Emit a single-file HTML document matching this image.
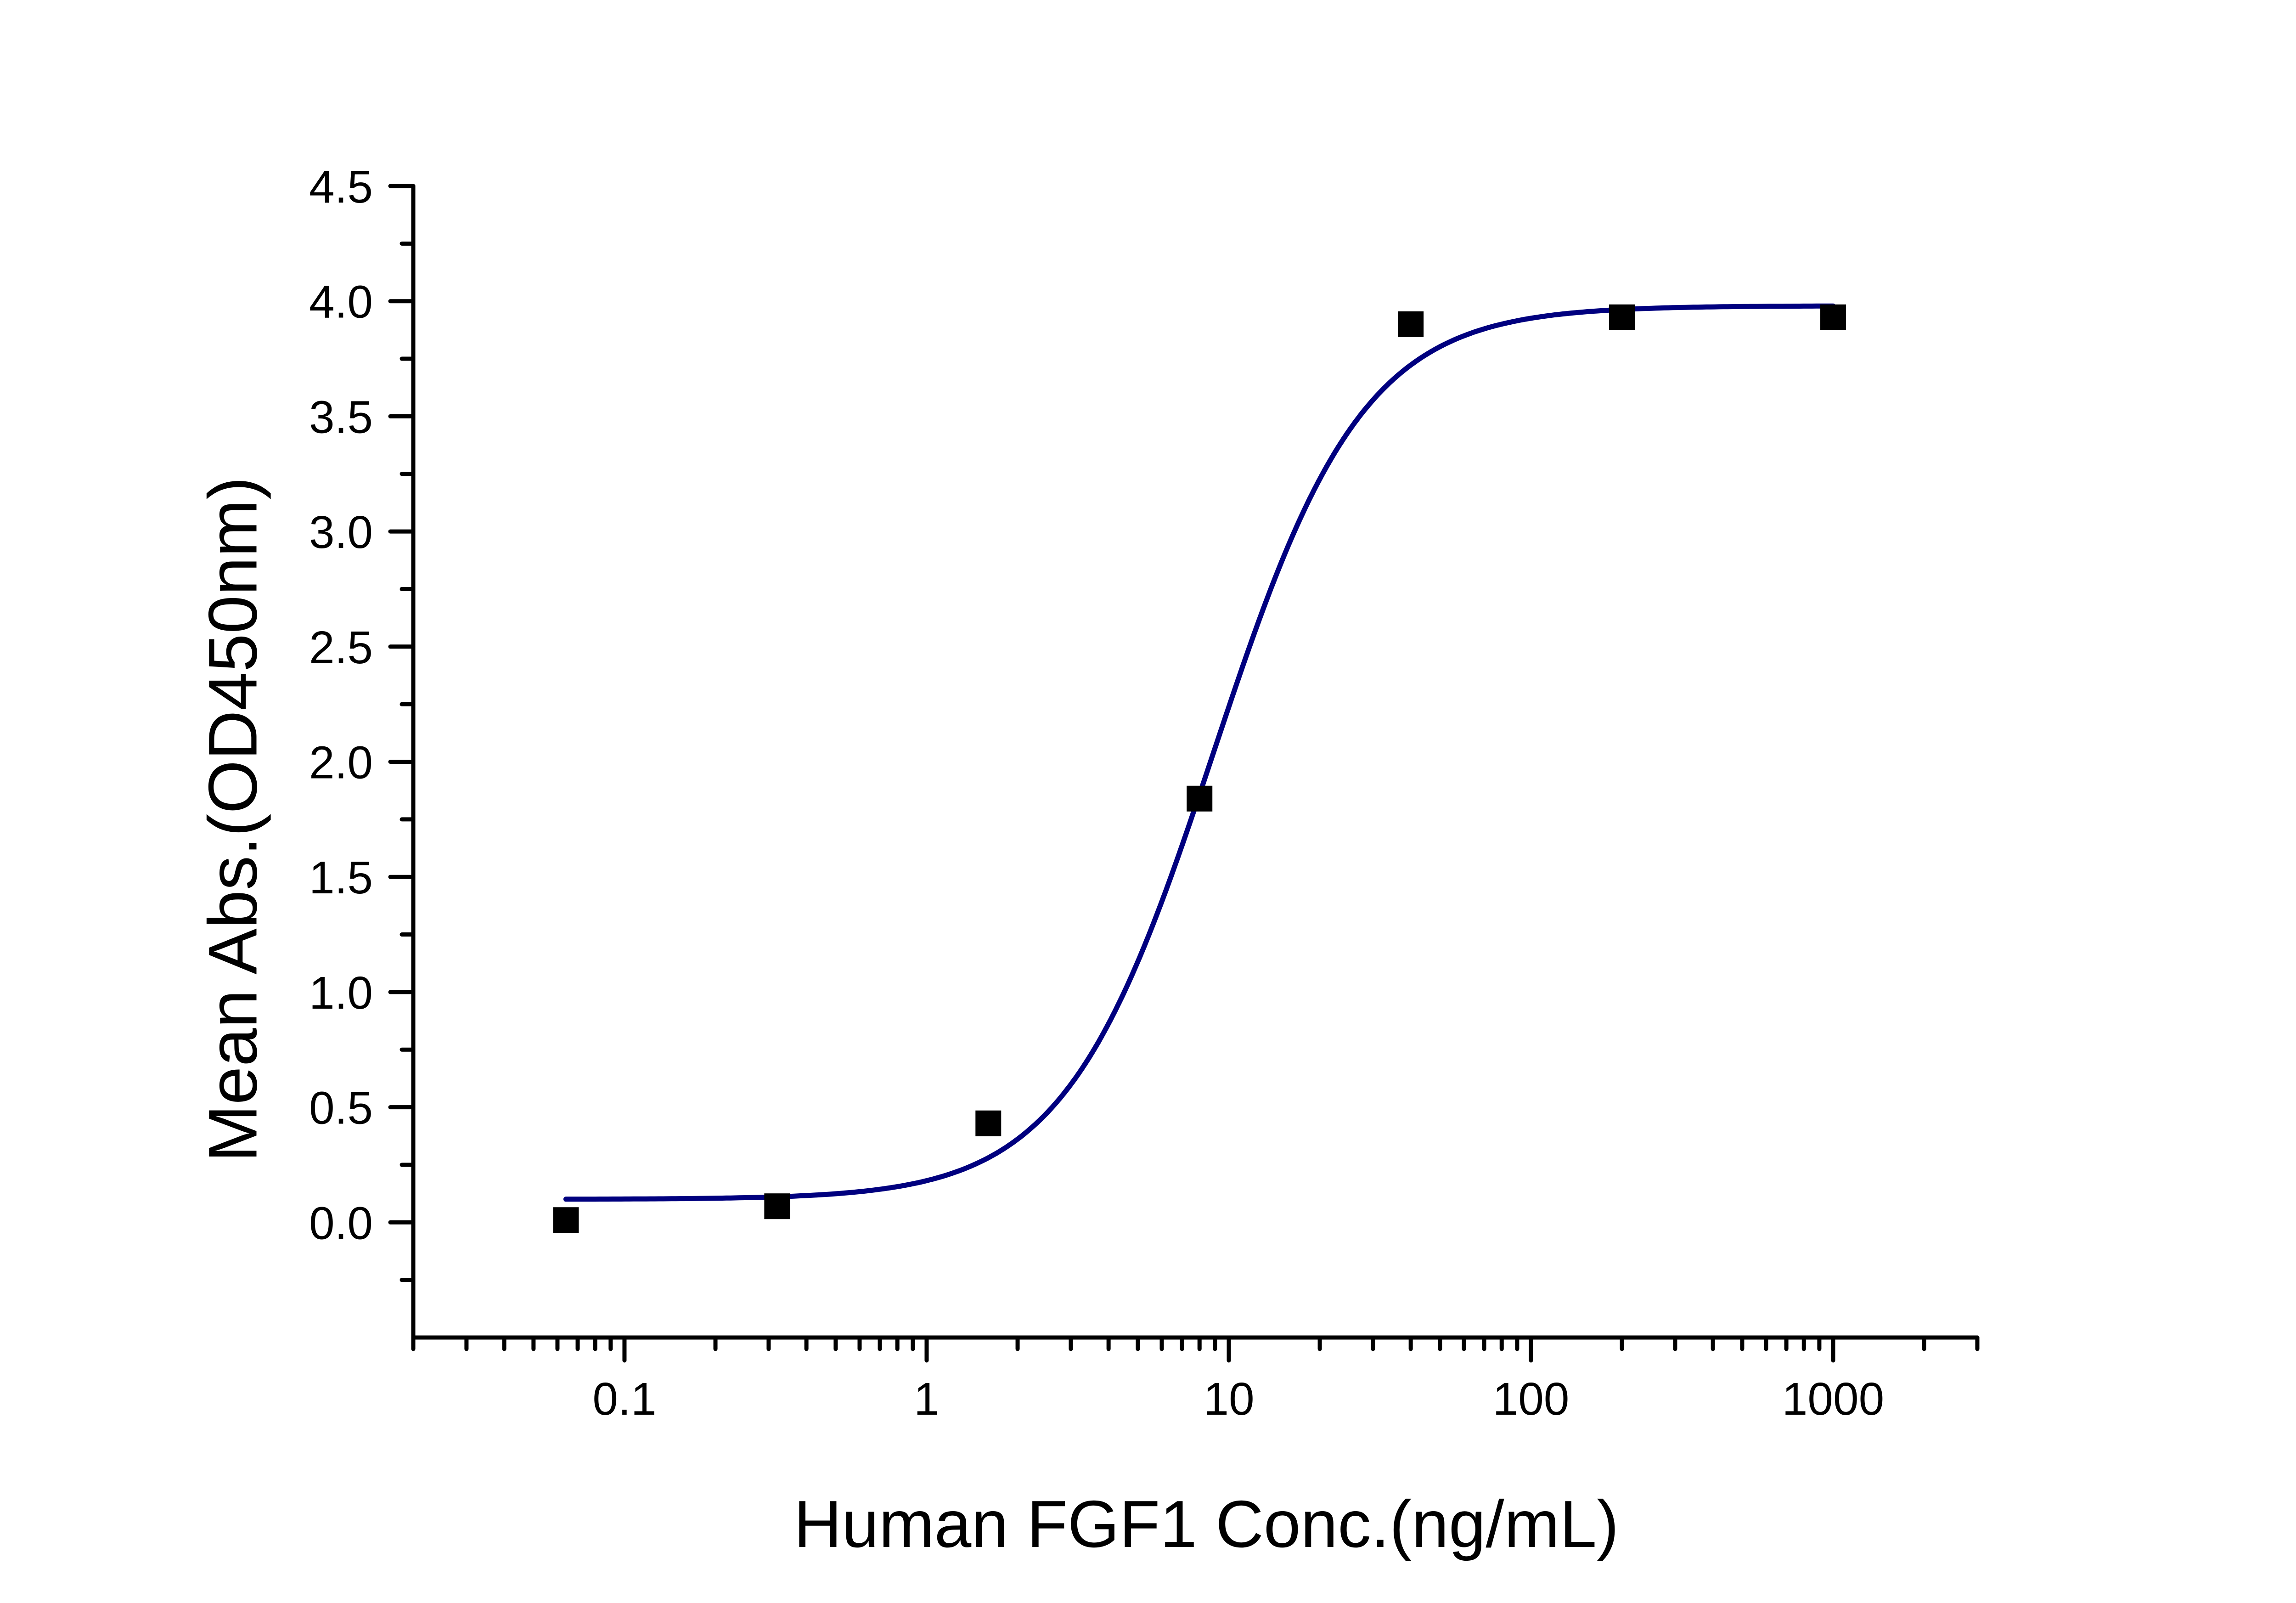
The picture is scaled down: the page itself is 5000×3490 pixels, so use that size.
<!DOCTYPE html>
<html><head><meta charset="utf-8"><style>
html,body{margin:0;padding:0;background:#fff;}
svg{display:block;}
text{font-family:"Liberation Sans",sans-serif;fill:#000;}
</style></head><body>
<svg id="chart" width="5000" height="3490" viewBox="0 0 5000 3490" xmlns="http://www.w3.org/2000/svg">
<rect width="5000" height="3490" fill="#fff"/>
<g id="axes"></g>
<path id="fit" fill="none" stroke="#00007f" stroke-width="11" stroke-linecap="round" stroke-linejoin="round"/>
<g id="pts"></g>
<text x="506" y="1784" font-size="150" text-anchor="middle" transform="rotate(-90 506 1784)" dy="0.35em">Mean Abs.(OD450nm)</text>
<text x="2627" y="3368" font-size="145" text-anchor="middle">Human FGF1 Conc.(ng/mL)</text>
</svg>
<script>
const concentrations = [0.064, 0.32, 1.6, 8, 40, 200, 1000];
const absorbance = [0.01, 0.07, 0.43, 1.84, 3.90, 3.93, 3.93];
const fitParams = [0.10, 3.98, 8.9, 1.76]; // bottom, top, EC50, hill
const yTicks = ["0.0","0.5","1.0","1.5","2.0","2.5","3.0","3.5","4.0","4.5"];
const xTicks = ["0.1","1","10","100","1000"];

const NS = "http://www.w3.org/2000/svg";
const X0 = 900, X1 = 4306, XMIN = Math.log10(0.02), XMAX = Math.log10(3000);
const Y0 = 2912, Y1 = 405, YMIN = -0.5, YMAX = 4.5;
function sx(v){ return X0 + (Math.log10(v) - XMIN) / (XMAX - XMIN) * (X1 - X0); }
function sy(v){ return Y0 - (v - YMIN) / (YMAX - YMIN) * (Y0 - Y1); }
function mk(tag, attrs, parent){ const e = document.createElementNS(NS, tag); for (const k in attrs) e.setAttribute(k, attrs[k]); parent.appendChild(e); return e; }

const axes = document.getElementById('axes');
const lineStyle = {stroke:'#000','stroke-width':9,'stroke-linecap':'round'};
let a = mk('line', Object.assign({x1:X0,y1:Y0,x2:X0,y2:Y1}, lineStyle), axes);


a = mk('line', Object.assign({x1:X0,y1:Y0,x2:X1,y2:Y0}, lineStyle), axes);



// y ticks
for (let v = -0.25; v <= 4.5001; v += 0.25) {
  const major = Math.abs(v * 2 - Math.round(v * 2)) < 1e-6;
  const y = sy(v);
  const t = mk('line', Object.assign({x1:X0 - (major ? 50 : 25), y1:y, x2:X0, y2:y}, lineStyle), axes);
  
  
}
yTicks.forEach(s => {
  const tx = mk('text', {x:812, y:sy(parseFloat(s)), 'font-size':100, 'text-anchor':'end', dy:'0.36em'}, axes);
  tx.textContent = s;
  
  
});
// x ticks
for (let d = -2; d <= 3; d++) {
  for (let m = 1; m <= 9; m++) {
    const v = m * Math.pow(10, d);
    if (v < 0.02 - 1e-9 || v > 3000 + 1e-6) continue;
    const x = sx(v);
    const major = m === 1;
    const t = mk('line', Object.assign({x1:x, y1:Y0, x2:x, y2:Y0 + (major ? 50 : 25)}, lineStyle), axes);
    
    
  }
}
xTicks.forEach(s => {
  const tx = mk('text', {x:sx(parseFloat(s)), y:3080, 'font-size':100, 'text-anchor':'middle'}, axes);
  tx.textContent = s;
  
  
});

// fit curve
function fitY(x){ const [b,t,ec,h] = fitParams; return b + (t - b) / (1 + Math.pow(ec / x, h)); }
let d = '';
const lx0 = Math.log10(concentrations[0]), lx1 = Math.log10(concentrations[concentrations.length - 1]);
for (let i = 0; i <= 300; i++) {
  const x = Math.pow(10, lx0 + (lx1 - lx0) * i / 300);
  d += (i ? 'L' : 'M') + sx(x).toFixed(1) + ',' + sy(fitY(x)).toFixed(1);
}
document.getElementById('fit').setAttribute('d', d);

// points
const pts = document.getElementById('pts');
concentrations.forEach((c, i) => {
  const r = mk('rect', {x:sx(c) - 28, y:sy(absorbance[i]) - 28, width:56, height:56, fill:'#000'}, pts);
  
  
});
</script>
</body></html>
